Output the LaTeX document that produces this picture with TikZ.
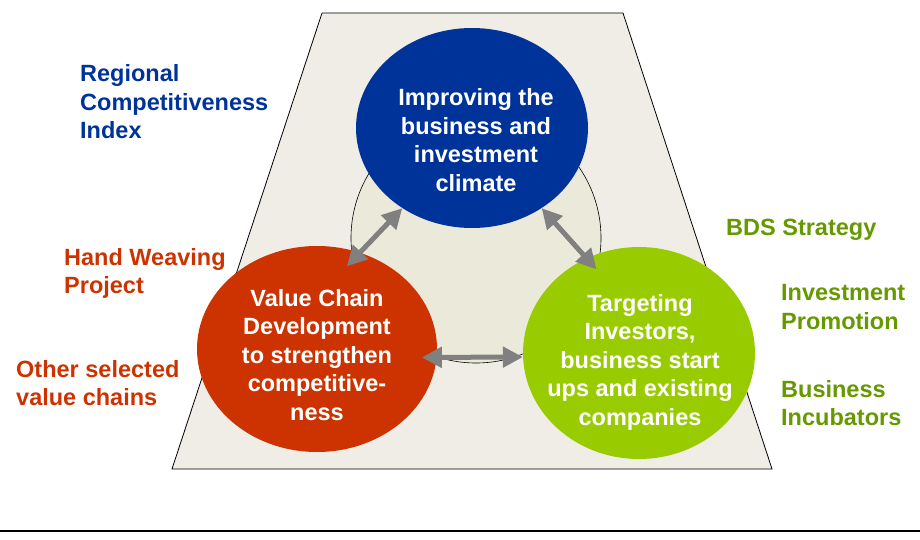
\documentclass[tikz,border=0pt]{standalone}
\usepackage{fontspec}
\setmainfont{Liberation Sans}
\usetikzlibrary{shapes.geometric,arrows.meta}
\definecolor{blueC}{HTML}{003399}
\definecolor{redC}{HTML}{CC3300}
\definecolor{greenC}{HTML}{99CC00}
\definecolor{greenT}{HTML}{669900}
\definecolor{arrowgray}{HTML}{808080}
\definecolor{plate}{HTML}{EFEDE6}
\definecolor{hub}{HTML}{EAE9DA}
\tikzset{
  disc/.style={ellipse, inner sep=0pt, draw=none},
  disctext/.style={text=white, font=\bfseries\fontsize{23.5}{28.5}\selectfont, align=center, inner sep=0pt},
  sidetext/.style={font=\bfseries\fontsize{23.5}{28.5}\selectfont, align=left, anchor=west, inner sep=0pt},
  link/.style={{Triangle[length=20pt,width=20pt]}-{Triangle[length=20pt,width=20pt]}, line width=5pt, draw=arrowgray}
}
\begin{document}
\begin{tikzpicture}[x=1pt,y=-1pt]
\useasboundingbox (0,0) rectangle (920,540);
% background plate
\draw[fill=plate, line width=0.8pt] (322,13) -- (623,13) -- (772,469) -- (172,469) -- cycle;
\draw[fill=hub, line width=0.6pt] (476,238) circle (125);
\draw[line width=2pt] (0,531) -- (920,531);
% the three discs
\node[disc, fill=blueC, minimum width=232pt, minimum height=200pt] (blue) at (472,128) {};
\node[disc, fill=redC, minimum width=240pt, minimum height=206pt] (red) at (317,349) {};
\node[disc, fill=greenC, minimum width=232pt, minimum height=212pt] (green) at (639,353) {};
\node[disctext] (blueTxt) at (476,140) {Improving the\\business and\\investment\\climate};
\node[disctext] (redTxt) at (317,355) {Value Chain\\Development\\to strengthen\\competitive-\\ness};
\node[disctext] (greenTxt) at (640,362) {Targeting\\Investors,\\business start\\ups and existing\\companies};
% links
\draw[link, shorten >=-19pt] (blue.229) -- (red.66);
\draw[link, shorten >=-15pt] (blue.311) -- (green.119);
\draw[link, shorten <=-15pt] (red.-4) -- (green.182);
% side labels
\node[sidetext, text=blueC] (rci) at (80,102) {Regional\\Competitiveness\\Index};
\node[sidetext, text=redC] (weave) at (64,273.5) {Hand Weaving\\Project};
\node[sidetext, text=redC] (chains) at (16,383) {Other selected\\value chains};
\node[sidetext, text=greenT] (bds) at (726,229.5) {BDS Strategy};
\node[sidetext, text=greenT] (promo) at (781,307) {Investment\\Promotion};
\node[sidetext, text=greenT] (incub) at (781,403) {Business\\Incubators};
\end{tikzpicture}
\end{document}
